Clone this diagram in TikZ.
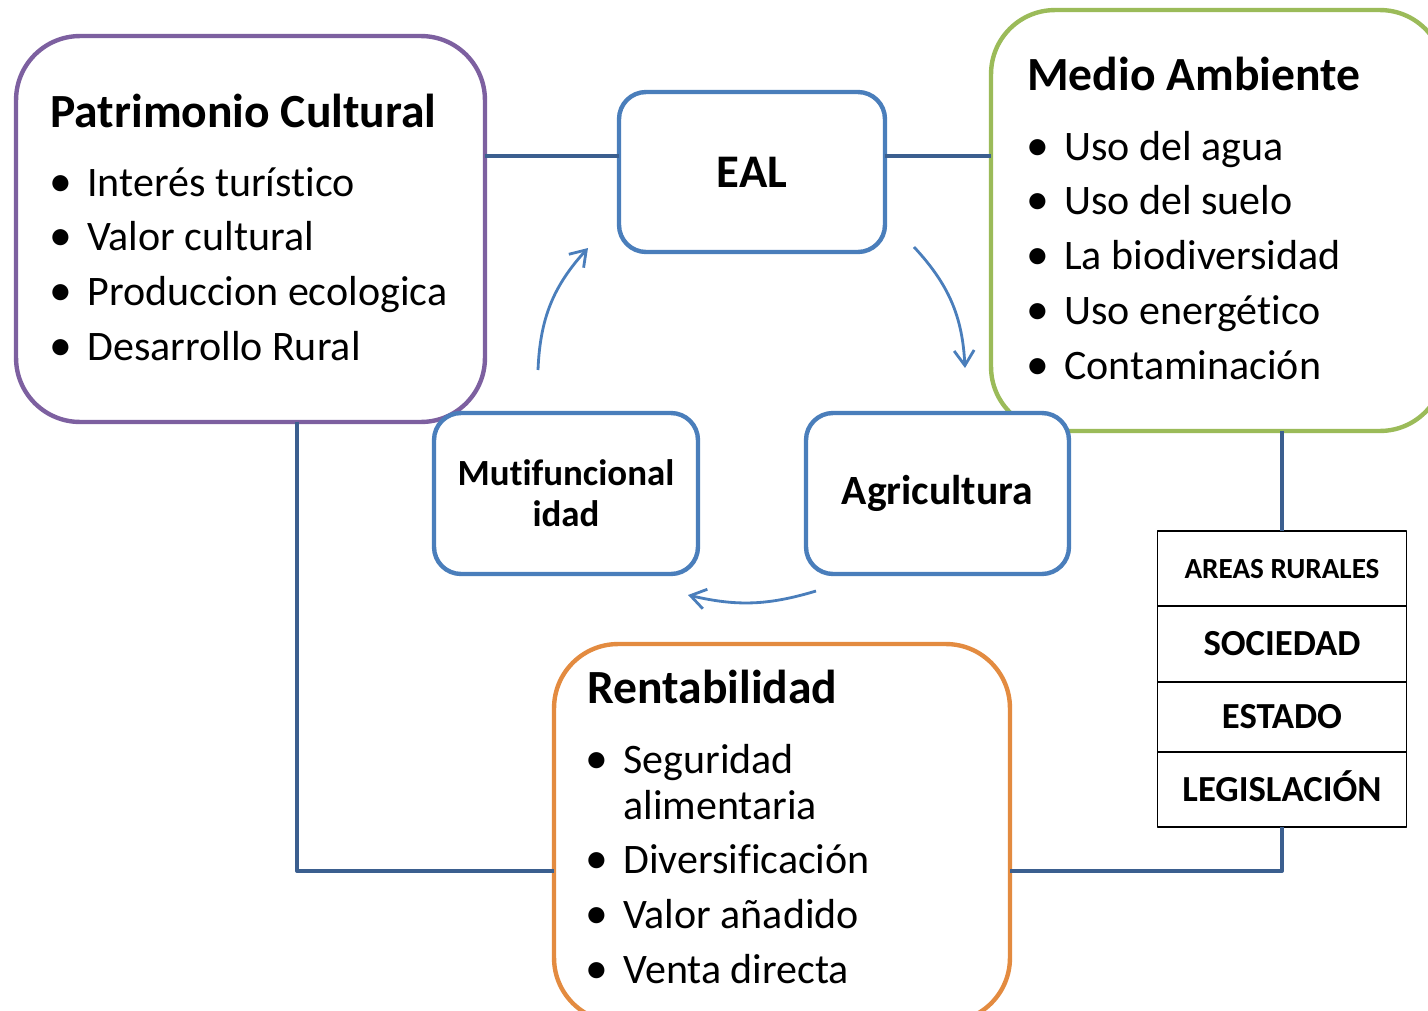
\documentclass[tikz,border=0pt]{standalone}
\usepackage{fontspec}
\setmainfont[Ligatures=NoCommon]{Carlito}
\usetikzlibrary{positioning,arrows.meta,calc}
\definecolor{morado}{HTML}{7D60A0}
\definecolor{verde}{HTML}{9BBB59}
\definecolor{naranja}{HTML}{E38B40}
\definecolor{azul}{HTML}{4A7EBB}
\definecolor{azuloscuro}{HTML}{3B5F8F}
\tikzset{
  caja/.style={draw,line width=2.5pt,fill=white,inner sep=0pt,outer sep=0pt,rounded corners=1.28cm},
  cajita/.style={draw=azul,line width=2.5pt,fill=white,inner sep=0pt,outer sep=0pt,rounded corners=0.54cm,
    minimum width=5.28cm,minimum height=3.22cm,font=\bfseries\fontsize{23.7}{28}\selectfont},
  titulo/.style={anchor=base west,inner sep=0pt,font=\bfseries\fontsize{27.1}{32}\selectfont},
  punto/.style={anchor=base west,inner sep=0pt,font=\fontsize{23.9}{28}\selectfont},
  conector/.style={draw=azuloscuro,line width=2.3pt},
  ciclo/.style={draw=azul,line width=1.6pt,-{Straight Barb[length=0.3cm,width=0.4cm]}},
  celda/.style={draw,line width=1.1pt,inner sep=0pt,outer sep=0pt,minimum width=4.98cm,
    text height=0.47cm,text depth=0pt,font=\bfseries\fontsize{20.9}{24}\selectfont}
}
\newcommand{\bala}{\llap{\fontsize{26}{28}\selectfont\textbullet\hspace{0.31cm}}}
\begin{document}
\begin{tikzpicture}[x=0.02cm,y=-0.02cm,line join=round]
\useasboundingbox (0,0) rectangle (1428,1011);
\clip (0,0) rectangle (1428,1011);
% cajas grandes
\node[caja,draw=morado,minimum width=9.38cm,minimum height=7.72cm] (patri) at (250.5,229) {};
\node[caja,draw=verde,minimum width=9.06cm,minimum height=8.42cm] (medio) at (1217.5,220.5) {};
\node[caja,draw=naranja,minimum width=9.12cm,minimum height=7.56cm] (renta) at (782,833) {};
% tabla
\node[celda,minimum height=1.5cm,text height=0.38cm,font=\bfseries\fontsize{16.6}{20}\selectfont] (areas) at (1282,568.5) {AREAS RURALES};
\node[celda,minimum height=1.52cm,below=0pt of areas] (soc) {SOCIEDAD};
\node[celda,minimum height=1.4cm,below=0pt of soc] (estado) {ESTADO};
\node[celda,minimum height=1.5cm,below=0pt of estado] (legis) {LEGISLACIÓN};
% conectores
\coordinate (arriba) at (0,156);
\coordinate (izq) at (297,871);
\draw[conector] (izq |- patri.south) -- (izq) -- (izq -| renta.west);
\draw[conector] (legis.south) |- (izq -| renta.east);
\draw[conector] (areas.north |- medio.south) -- (areas.north);
% cajas pequeñas
\node[cajita,minimum width=5.32cm,minimum height=3.2cm,font=\bfseries\fontsize{26.6}{32}\selectfont] (eal) at (752,172) {EAL};
\node[cajita,align=center,font=\bfseries\fontsize{21}{23.2}\selectfont] (multi) at (566,493.5) {Mutifuncional\\idad};
\node[cajita,minimum width=5.26cm] (agri) at (937.5,493.5) {Agricultura};
\draw[conector] (arriba -| patri.east) -- (arriba -| eal.west);
\draw[conector] (arriba -| eal.east) -- (arriba -| medio.west);
% ciclo
\coordinate (c1) at (538,370);
\coordinate (c2) at (588,248);
\coordinate (c3) at (914,247);
\coordinate (c4) at (965,368);
\coordinate (c5) at (816,591);
\coordinate (c6) at (688,595);
\draw[ciclo] (c1) to[bend left=20] (c2);
\draw[ciclo] (c3) to[bend left=20] (c4);
\draw[ciclo] (c5) to[bend left=15] (c6);
% textos
\node[titulo] (tpatri) at (50,127) {Patrimonio Cultural};
\foreach \t [count=\i from 0] in {Interés turístico,Valor cultural,Produccion ecologica,Desarrollo Rural}
  \node[punto] (pc\i) at (87,{196+54.7*\i}) {\bala\t};
\node[titulo] (tmedio) at (1027,90) {Medio Ambiente};
\foreach \t [count=\i from 0] in {Uso del agua,Uso del suelo,La biodiversidad,Uso energético,Contaminación}
  \node[punto] (ma\i) at (1064,{160+54.75*\i}) {\bala\t};
\node[titulo] (trenta) at (587,703) {Rentabilidad};
\node[punto] (r1) at (623,773) {\bala Seguridad};
\node[punto] (r2) at (623,819) {alimentaria};
\node[punto] (r3) at (623,873) {\bala Diversificación};
\node[punto] (r4) at (623,928) {\bala Valor añadido};
\node[punto] (r5) at (623,983) {\bala Venta directa};
\end{tikzpicture}
\end{document}
